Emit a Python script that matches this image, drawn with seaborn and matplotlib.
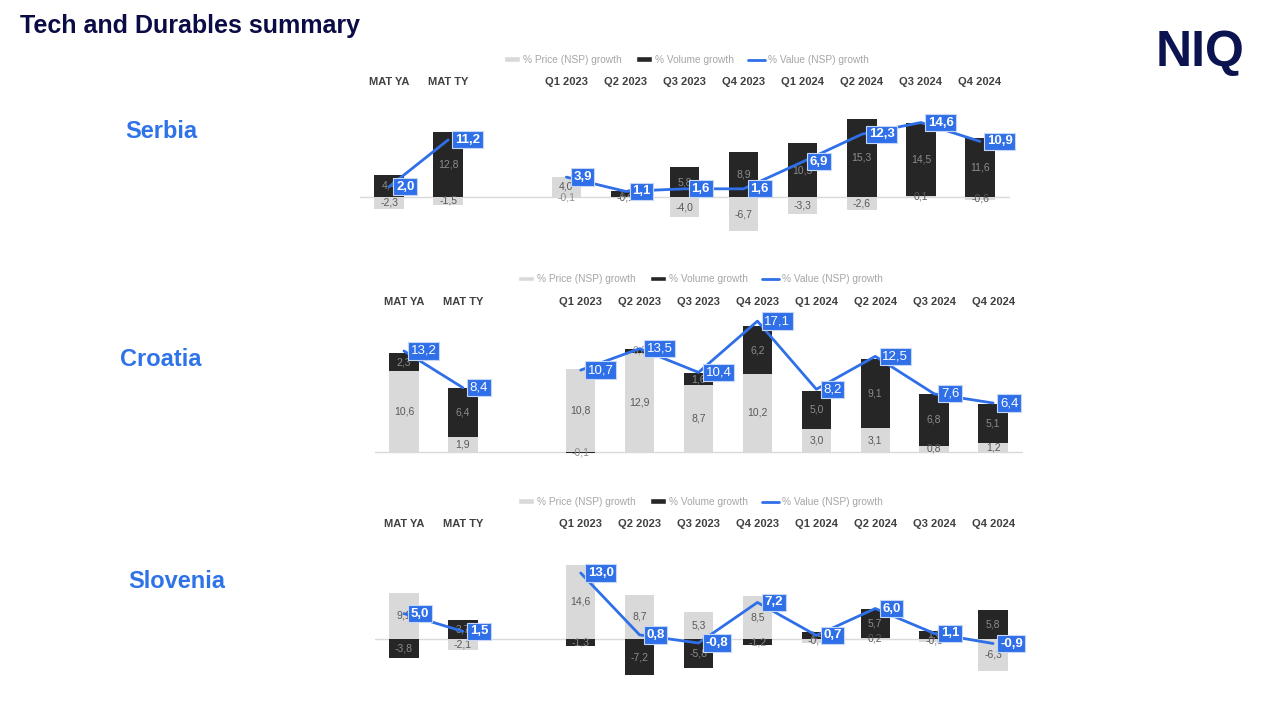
import matplotlib
matplotlib.use('Agg')
import matplotlib.pyplot as plt
import pandas as pd
import seaborn as sns
from matplotlib.patches import Patch
from matplotlib.lines import Line2D

sns.set_theme(style='white')
plt.rcParams['font.family'] = ['Liberation Sans', 'DejaVu Sans']

# periods shown on every panel (gap between MAT and quarters)
periods = ['MAT YA', 'MAT TY', 'Q1 2023', 'Q2 2023', 'Q3 2023', 'Q4 2023',
           'Q1 2024', 'Q2 2024', 'Q3 2024', 'Q4 2024']
positions = [0, 1, 3, 4, 5, 6, 7, 8, 9, 10]

serbia_price = [-2.3, -1.5, 4.0, -0.1, -4.0, -6.7, -3.3, -2.6, 0.1, -0.6]
serbia_volume = [4.4, 12.8, -0.1, 1.2, 5.8, 8.9, 10.5, 15.3, 14.5, 11.6]
serbia_value = [2.0, 11.2, 3.9, 1.1, 1.6, 1.6, 6.9, 12.3, 14.6, 10.9]

croatia_price = [10.6, 1.9, 10.8, 12.9, 8.7, 10.2, 3.0, 3.1, 0.8, 1.2]
croatia_volume = [2.3, 6.4, -0.1, 0.6, 1.6, 6.2, 5.0, 9.1, 6.8, 5.1]
croatia_value = [13.2, 8.4, 10.7, 13.5, 10.4, 17.1, 8.2, 12.5, 7.6, 6.4]

slovenia_price = [9.1, -2.1, 14.6, 8.7, 5.3, 8.5, -0.7, 0.2, -0.5, -6.3]
slovenia_volume = [-3.8, 3.7, -1.3, -7.2, -5.8, -1.2, 1.4, 5.7, 1.6, 5.8]
slovenia_value = [5.0, 1.5, 13.0, 0.8, -0.8, 7.2, 0.7, 6.0, 1.1, -0.9]

price_color = '#d9d9d9'
vol_color = '#262626'
blue = '#2f6fe8'
legend_labels = ['% Price (NSP) growth', '% Volume growth', '% Value (NSP) growth']


def fmt(v):
    return f'{v:.1f}'.replace('.', ',')


fig = plt.figure(figsize=(12.8, 7.2), dpi=100)


def draw_panel(rect, ylim, price, volume, value, legend_xy, box_weight):
    ax = fig.add_axes(rect)
    df = pd.DataFrame({'period': periods, 'pos': positions,
                       'price': price, 'volume': volume, 'value': value})
    df['group'] = ['MAT' if p.startswith('MAT') else 'Q' for p in periods]
    same = (df['price'] * df['volume']) > 0
    df['vol_top'] = df['volume'].where(~same, df['price'] + df['volume'])
    df['vol_mid'] = (df['vol_top'] + df['price'].where(same, 0)) / 2

    sns.barplot(data=df, x='pos', y='vol_top', native_scale=True, width=0.5,
                color=vol_color, saturation=1, linewidth=0, errorbar=None, ax=ax)
    sns.barplot(data=df, x='pos', y='price', native_scale=True, width=0.5,
                color=price_color, saturation=1, linewidth=0, errorbar=None, ax=ax)
    sns.lineplot(data=df, x='pos', y='value', units='group', estimator=None,
                 color=blue, lw=2, ax=ax, zorder=4)

    for _, r in df.iterrows():
        ax.text(r['pos'], r['price'] / 2, fmt(r['price']), ha='center', va='center',
                fontsize=7.5, color='#595959', zorder=3)
        ax.text(r['pos'], r['vol_mid'], fmt(r['volume']), ha='center', va='center',
                fontsize=7.5, color='#8c8c8c', zorder=3)
        ax.annotate(fmt(r['value']), (r['pos'], r['value']), xytext=(5, 0),
                    textcoords='offset points', ha='left', va='center',
                    fontsize=9.5, color='white', fontweight=box_weight, zorder=5,
                    bbox=dict(boxstyle='square,pad=0.2', fc=blue, ec='#c5d6f7', lw=0.8),
                    annotation_clip=False)

    ax.axhline(0, color='#d9d9d9', lw=1, zorder=0)
    ax.set_xlim(-0.5, 10.5)
    ax.set_ylim(*ylim)
    ax.set_xticks(positions)
    ax.set_xticklabels(periods, fontsize=8, fontweight='bold', color='#404040')
    ax.xaxis.tick_top()
    ax.tick_params(axis='x', length=0, pad=6)
    ax.set_yticks([])
    ax.set_xlabel('')
    ax.set_ylabel('')
    sns.despine(ax=ax, left=True, bottom=True, top=True, right=True)

    handles = [Patch(fc=price_color), Patch(fc=vol_color), Line2D([], [], color=blue, lw=2)]
    fig.legend(handles, legend_labels, loc='center', bbox_to_anchor=legend_xy, ncol=3,
               frameon=False, fontsize=7.3, labelcolor='#a6a6a6', handlelength=1.6,
               handleheight=0.5, columnspacing=1.4, handletextpad=0.3)
    return ax


draw_panel([0.2809, 0.6667, 0.5078, 0.2014], (-8.43, 20.0),
           serbia_price, serbia_volume, serbia_value, (0.536, 0.9167), 'bold')
draw_panel([0.2926, 0.3583, 0.50625, 0.2042], (-1.31, 17.9),
           croatia_price, croatia_volume, croatia_value, (0.547, 0.6125), 'normal')
draw_panel([0.2926, 0.04167, 0.50625, 0.2125], (-10.06, 20.1),
           slovenia_price, slovenia_volume, slovenia_value, (0.547, 0.3028), 'bold')

fig.text(20 / 1280, 1 - 26 / 720, 'Tech and Durables summary', ha='left', va='center',
         fontsize=18, fontweight='bold', color='#0b0b45')
fig.text(1200 / 1280, 1 - 53 / 720, 'NIQ', ha='center', va='center',
         fontsize=36, fontweight='heavy', color='#0b1450')

for name, (x, y) in {'Serbia': (161, 132), 'Croatia': (161, 359), 'Slovenia': (177, 582)}.items():
    fig.text(x / 1280, 1 - y / 720, name, ha='center', va='center',
             fontsize=17, fontweight='bold', color='#2f73e8')

fig.savefig('out.png', dpi=100)
